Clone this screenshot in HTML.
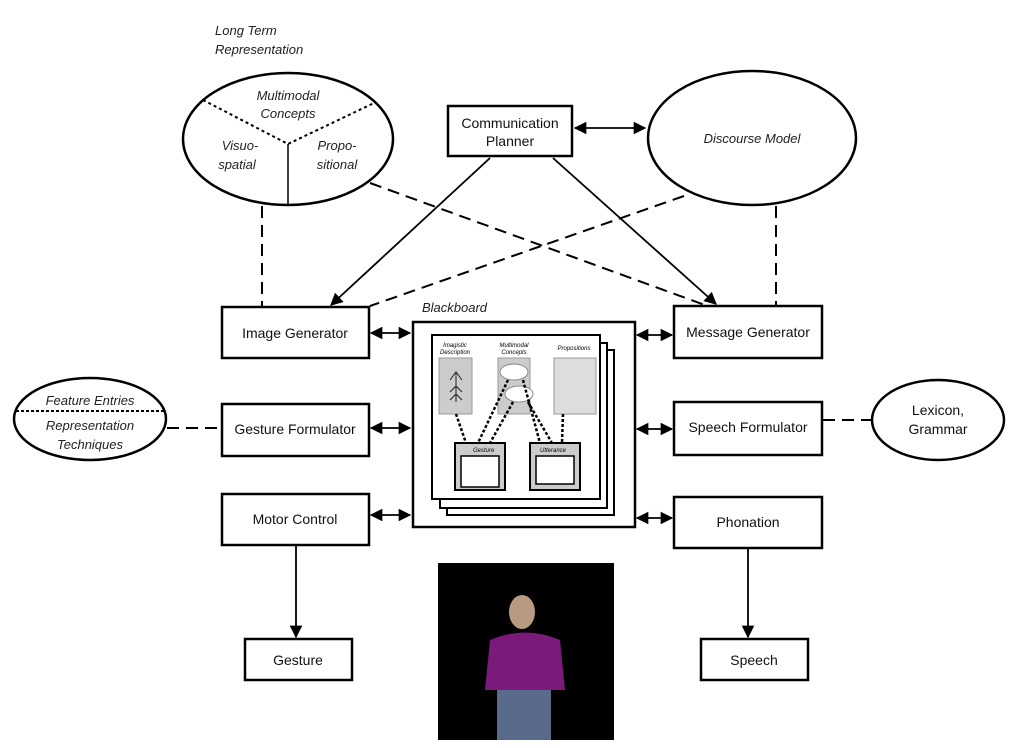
<!DOCTYPE html>
<html><head><meta charset="utf-8"><style>
html,body{margin:0;padding:0;background:#fff;}
svg{display:block;font-family:"Liberation Sans",sans-serif;}
.b{fill:#fff;stroke:#000;stroke-width:2.5;}
.t{font-size:14px;text-anchor:middle;fill:#111;}
.i{font-size:13px;font-style:italic;text-anchor:middle;fill:#222;}
.l{stroke:#000;stroke-width:1.8;fill:none;}
.d{stroke:#000;stroke-width:2;fill:none;stroke-dasharray:12,7;}
</style></head><body>
<svg width="1024" height="748" viewBox="0 0 1024 748">
<defs>
<marker id="a" viewBox="0 0 10 10" refX="9" refY="5" markerWidth="7" markerHeight="7" orient="auto-start-reverse"><path d="M0,0 L10,5 L0,10 z" fill="#000"/></marker>
</defs>
<text x="215" y="35" class="i" style="text-anchor:start">Long Term</text>
<text x="215" y="54" class="i" style="text-anchor:start">Representation</text>
<ellipse cx="288" cy="139" rx="105" ry="66" class="b"/>
<path d="M203,100 L288,144 L374,103" stroke="#000" stroke-width="2" stroke-dasharray="3,3" fill="none"/>
<line x1="288" y1="144" x2="288" y2="205" stroke="#000" stroke-width="1.5"/>
<text x="288" y="100" class="i">Multimodal</text>
<text x="288" y="118" class="i">Concepts</text>
<text x="240" y="150" class="i">Visuo-</text>
<text x="237" y="169" class="i">spatial</text>
<text x="337" y="150" class="i">Propo-</text>
<text x="337" y="169" class="i">sitional</text>
<ellipse cx="752" cy="138" rx="104" ry="67" class="b"/>
<text x="752" y="143" class="i">Discourse Model</text>
<rect x="448" y="106" width="124" height="50" class="b"/>
<text x="510" y="128" class="t">Communication</text>
<text x="510" y="146" class="t">Planner</text>
<line x1="575" y1="128" x2="645" y2="128" class="l" marker-start="url(#a)" marker-end="url(#a)"/>
<line x1="490" y1="158" x2="331" y2="305" class="l" marker-end="url(#a)"/>
<line x1="553" y1="158" x2="716" y2="304" class="l" marker-end="url(#a)"/>
<line x1="370" y1="183" x2="705" y2="305" class="d"/>
<line x1="684" y1="196" x2="370" y2="306" class="d"/>
<line x1="262" y1="206" x2="262" y2="306" class="d"/>
<line x1="776" y1="206" x2="776" y2="305" class="d"/>
<rect x="222" y="307" width="147" height="51" class="b"/><text x="295" y="338" class="t">Image Generator</text>
<rect x="674" y="306" width="148" height="52" class="b"/><text x="748" y="337" class="t">Message Generator</text>
<rect x="222" y="404" width="147" height="52" class="b"/><text x="295" y="434" class="t">Gesture Formulator</text>
<rect x="674" y="402" width="148" height="53" class="b"/><text x="748" y="432" class="t">Speech Formulator</text>
<rect x="222" y="494" width="147" height="51" class="b"/><text x="295" y="524" class="t">Motor Control</text>
<rect x="674" y="497" width="148" height="51" class="b"/><text x="748" y="527" class="t">Phonation</text>
<rect x="245" y="639" width="107" height="41" class="b"/><text x="298" y="665" class="t">Gesture</text>
<rect x="701" y="639" width="107" height="41" class="b"/><text x="754" y="665" class="t">Speech</text>
<line x1="296" y1="546" x2="296" y2="637" class="l" marker-end="url(#a)"/>
<line x1="748" y1="549" x2="748" y2="637" class="l" marker-end="url(#a)"/>
<ellipse cx="90" cy="419" rx="76" ry="41" class="b"/>
<line x1="16" y1="411" x2="165" y2="411" stroke="#000" stroke-width="2" stroke-dasharray="3,2"/>
<text x="90" y="405" class="i">Feature Entries</text>
<text x="90" y="430" class="i">Representation</text>
<text x="90" y="449" class="i">Techniques</text>
<line x1="167" y1="428" x2="222" y2="428" class="d"/>
<ellipse cx="938" cy="420" rx="66" ry="40" class="b"/>
<text x="938" y="415" class="t">Lexicon,</text><text x="938" y="434" class="t">Grammar</text>
<line x1="823" y1="420" x2="872" y2="420" class="d"/>
<text x="422" y="312" class="i" style="text-anchor:start">Blackboard</text>
<rect x="413" y="322" width="222" height="205" class="b"/>
<rect x="447" y="350" width="167" height="165" fill="#fff" stroke="#000" stroke-width="2"/>
<rect x="440" y="343" width="167" height="165" fill="#fff" stroke="#000" stroke-width="2"/>
<rect x="432" y="335" width="168" height="164" fill="#fff" stroke="#000" stroke-width="2"/>
<text x="455" y="347" font-size="6" font-style="italic" text-anchor="middle">Imagistic</text>
<text x="455" y="354" font-size="6" font-style="italic" text-anchor="middle">Description</text>
<text x="514" y="347" font-size="6" font-style="italic" text-anchor="middle">Multimodal</text>
<text x="514" y="354" font-size="6" font-style="italic" text-anchor="middle">Concepts</text>
<text x="574" y="350" font-size="6" font-style="italic" text-anchor="middle">Propositions</text>
<rect x="439" y="358" width="33" height="56" fill="#ccc" stroke="#999"/>
<rect x="498" y="358" width="32" height="56" fill="#ccc" stroke="#999"/>
<rect x="554" y="358" width="42" height="56" fill="#ddd" stroke="#999"/>
<ellipse cx="514" cy="372" rx="14" ry="8" fill="#fff" stroke="#888"/>
<ellipse cx="519" cy="394" rx="14" ry="8" fill="#fff" stroke="#888"/>
<path d="M450,380 l6,-8 l6,8 M456,372 v30 M450,392 l6,-6 l6,6 M450,400 l6,-6 l6,6" stroke="#222" fill="none"/>
<rect x="455" y="443" width="50" height="47" fill="#ccc" stroke="#000" stroke-width="2"/>
<rect x="461" y="456" width="38" height="31" fill="#fff" stroke="#000" stroke-width="1.5"/>
<rect x="530" y="443" width="50" height="47" fill="#ccc" stroke="#000" stroke-width="2"/>
<rect x="536" y="456" width="38" height="28" fill="#fff" stroke="#000" stroke-width="1.5"/>
<text x="473" y="452" font-size="6" font-style="italic">Gesture</text>
<text x="540" y="452" font-size="6" font-style="italic">Utterance</text>
<g stroke="#000" stroke-width="2.5" stroke-dasharray="3,2" fill="none">
<line x1="456" y1="414" x2="466" y2="443"/><line x1="508" y1="380" x2="478" y2="443"/><line x1="513" y1="402" x2="490" y2="443"/>
<line x1="523" y1="380" x2="540" y2="443"/><line x1="528" y1="402" x2="552" y2="443"/><line x1="563" y1="414" x2="562" y2="443"/>
</g>
<line x1="371" y1="333" x2="410" y2="333" class="l" marker-start="url(#a)" marker-end="url(#a)"/>
<line x1="371" y1="428" x2="410" y2="428" class="l" marker-start="url(#a)" marker-end="url(#a)"/>
<line x1="371" y1="515" x2="410" y2="515" class="l" marker-start="url(#a)" marker-end="url(#a)"/>
<line x1="637" y1="335" x2="672" y2="335" class="l" marker-start="url(#a)" marker-end="url(#a)"/>
<line x1="637" y1="429" x2="672" y2="429" class="l" marker-start="url(#a)" marker-end="url(#a)"/>
<line x1="637" y1="518" x2="672" y2="518" class="l" marker-start="url(#a)" marker-end="url(#a)"/>
<rect x="438" y="563" width="176" height="177" fill="#000"/>
<path d="M490,640 Q525,625 560,640 L565,690 L485,690 Z" fill="#7a1a7a"/>
<ellipse cx="522" cy="612" rx="13" ry="17" fill="#b89a80"/>
<rect x="497" y="690" width="54" height="50" fill="#5a6a8a"/>
</svg>
</body></html>
